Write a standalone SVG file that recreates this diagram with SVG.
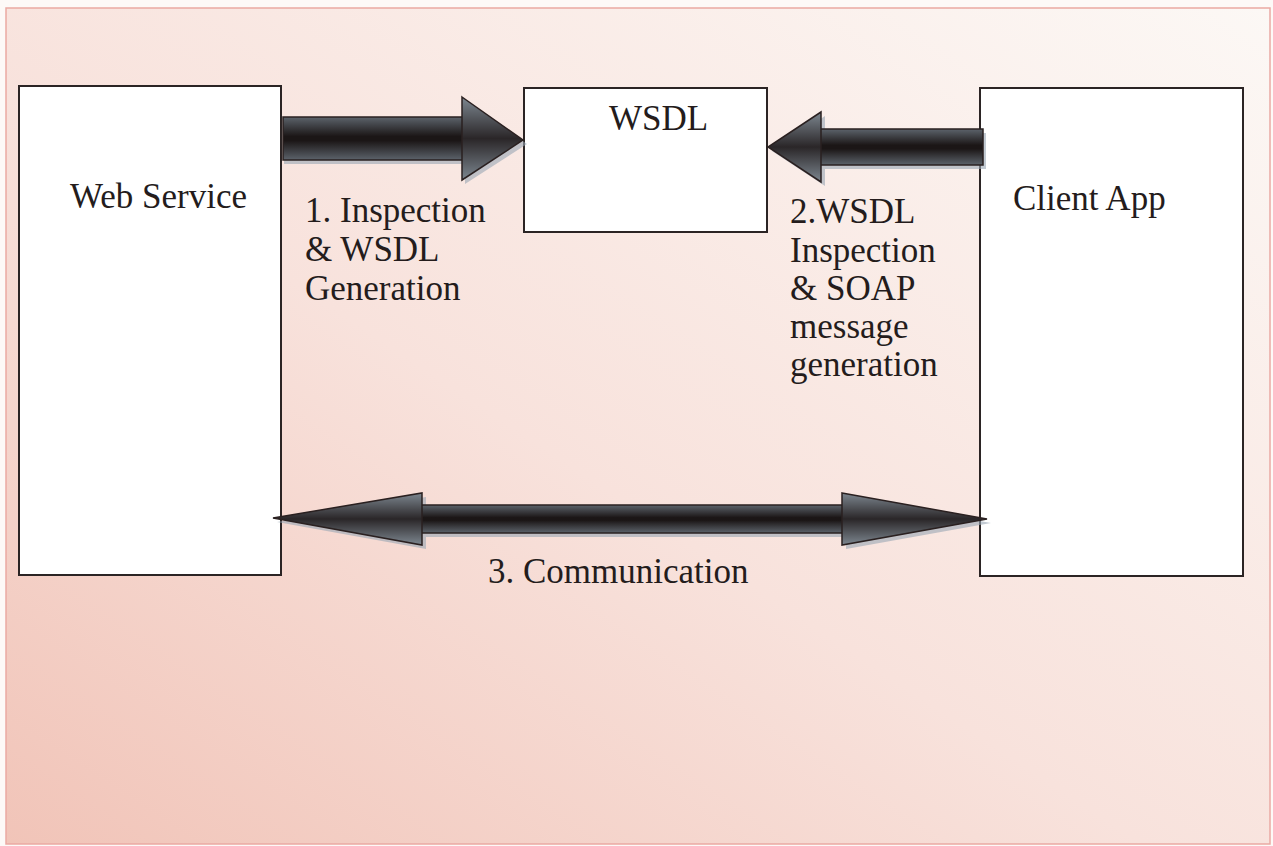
<svg xmlns="http://www.w3.org/2000/svg" width="1273" height="846" viewBox="0 0 1273 846">
  <defs>
    <linearGradient id="bg" x1="0" y1="1" x2="1" y2="0">
      <stop offset="0" stop-color="#f1c4b8"/>
      <stop offset="0.45" stop-color="#f8e2dc"/>
      <stop offset="1" stop-color="#fcf8f5"/>
    </linearGradient>
    <!-- metallic shading for the arrow bodies -->
    <linearGradient id="metal" x1="0" y1="0" x2="0" y2="1">
      <stop offset="0" stop-color="#5c636b"/>
      <stop offset="0.45" stop-color="#1b1616"/>
      <stop offset="0.55" stop-color="#1b1616"/>
      <stop offset="1" stop-color="#5c636b"/>
    </linearGradient>
    <linearGradient id="head" x1="0" y1="0" x2="0" y2="1">
      <stop offset="0" stop-color="#7d8790"/>
      <stop offset="0.5" stop-color="#2a2628"/>
      <stop offset="1" stop-color="#7d8790"/>
    </linearGradient>
    <style>
      .box { fill: #ffffff; stroke: #2b2424; stroke-width: 2; }
      .lbl { font-family: "Liberation Serif", "Times New Roman", serif; font-size: 35px; fill: #241c1c; }
      .shaft { fill: url(#metal); stroke: #2a2020; stroke-width: 1.5; }
      .tip { fill: url(#head); stroke: #2a2020; stroke-width: 1.5; }
      .shadow { fill: #9aa6b4; opacity: 0.6; }
    </style>
  </defs>

  <!-- page background and frame -->
  <rect x="0" y="0" width="1273" height="846" fill="#fdf9f7"/>
  <rect x="6" y="8" width="1264" height="836" fill="url(#bg)" stroke="#eaa9a3" stroke-width="1.5"/>

  <g id="web-service">
    <rect class="box" x="19" y="86" width="262" height="489"/>
    <text class="lbl" x="70" y="208">Web Service</text>
  </g>

  <g id="wsdl">
    <rect class="box" x="524" y="88" width="243" height="144"/>
    <text class="lbl" x="609" y="130">WSDL</text>
  </g>

  <g id="client-app">
    <rect class="box" x="980" y="88" width="263" height="488"/>
    <text class="lbl" x="1013" y="210">Client App</text>
  </g>

  <g id="connectors">
    <!-- 1: Web Service to WSDL -->
    <g id="arrow-1">
      <path class="shadow" d="M284 121 H465 V101 L527 144 L465 184 V164 H284 Z"/>
      <rect class="shaft" x="283" y="117" width="181" height="43"/>
      <path class="tip" d="M462 97 L523 140 L462 180 Z"/>
      <text class="lbl" x="305" y="222">1. Inspection</text>
      <text class="lbl" x="305" y="261">&amp; WSDL</text>
      <text class="lbl" x="305" y="300">Generation</text>
    </g>
    <!-- 2: Client App to WSDL -->
    <g id="arrow-2">
      <path class="shadow" d="M986 133 H825 V116 L772 151 L825 186 V169 H986 Z"/>
      <rect class="shaft" x="819" y="129" width="164" height="36"/>
      <path class="tip" d="M821 112 L768 147 L821 182 Z"/>
      <text class="lbl" x="790" y="223">2.WSDL</text>
      <text class="lbl" x="790" y="262">Inspection</text>
      <text class="lbl" x="790" y="300">&amp; SOAP</text>
      <text class="lbl" x="790" y="338">message</text>
      <text class="lbl" x="790" y="376">generation</text>
    </g>
    <!-- 3: two-way communication -->
    <g id="arrow-3">
      <path class="shadow" d="M277 522 L426 497 V509 H846 V497 L991 523 L846 549 V537 H426 V549 Z"/>
      <rect class="shaft" x="420" y="505" width="424" height="28"/>
      <path class="tip" d="M273 518 L422 493 V545 Z"/>
      <path class="tip" d="M842 493 L987 519 L842 545 Z"/>
      <text class="lbl" x="488" y="583">3. Communication</text>
    </g>
  </g>
</svg>
